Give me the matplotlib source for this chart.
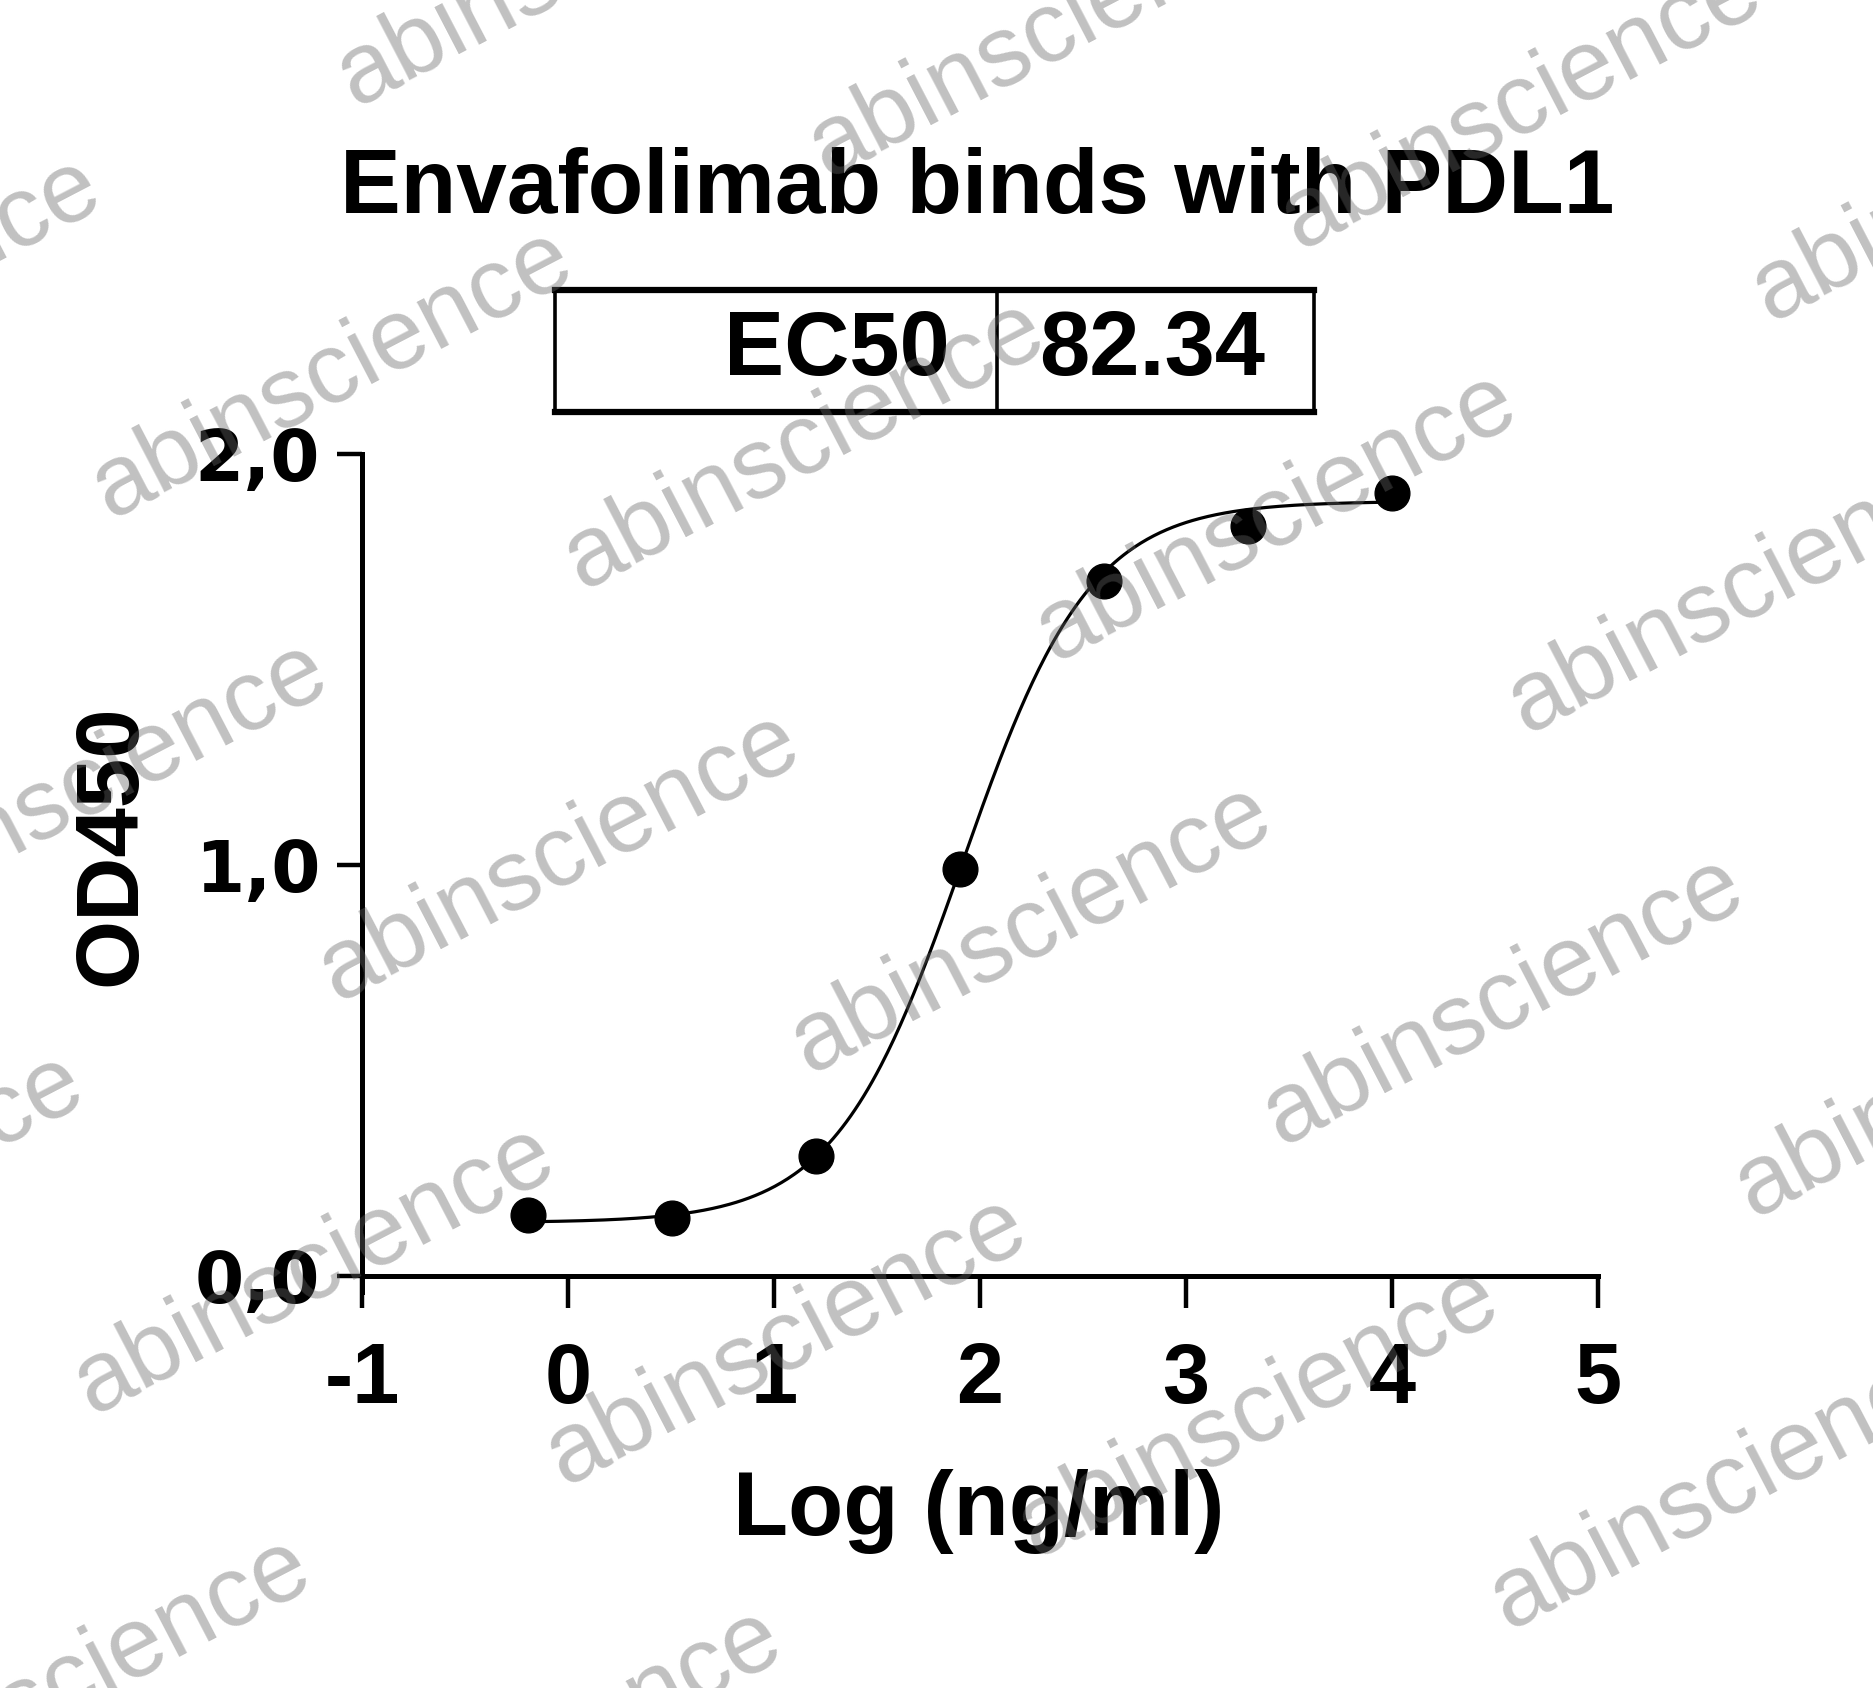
import numpy as np
import matplotlib
matplotlib.use("Agg")
import matplotlib.pyplot as plt

# data (log10 ng/ml, 5-fold dilution series)
log_conc = [-0.194, 0.505, 1.204, 1.903, 2.602, 3.301, 4.0]
od450 = [0.148, 0.140, 0.291, 0.991, 1.692, 1.826, 1.904]

# 4PL fit parameters shown by the chart
ec50 = 82.34
fit_bottom = 0.13
fit_top = 1.885
fit_hill = 1.4

xticks = [-1, 0, 1, 2, 3, 4, 5]
xtick_labels = ["-1", "0", "1", "2", "3", "4", "5"]
yticks = [0.0, 1.0, 2.0]
ytick_labels = ["0,0", "1,0", "2,0"]

W, H = 1873, 1688
fig = plt.figure(figsize=(W / 100, H / 100), dpi=100)
plt.rcParams['font.family'] = ['Liberation Sans', 'DejaVu Sans']

def fx(px):
    return px / W

def fy(py):
    return 1 - py / H

# main axes: x -1..5 spans px 362..1598, y 0..2 spans px 1276..454
y_bottom = -0.04
unit = (1276 - 454) / 2.0
ax = fig.add_axes([fx(362), fy(1276 - y_bottom * unit), fx(1598) - fx(362),
                   (2.0 - y_bottom) * unit / H])
ax.set_xlim(-1, 5)
ax.set_ylim(y_bottom, 2.0)
ax.spines[['right', 'top']].set_visible(False)
ax.spines['bottom'].set_position(('data', 0))
for s in ['left', 'bottom']:
    ax.spines[s].set_linewidth(3.6)
    ax.spines[s].set_capstyle('projecting')
ax.set_xticks(xticks)
ax.set_xticklabels(xtick_labels)
ax.set_yticks(yticks)
ax.set_yticklabels(ytick_labels)
ax.tick_params(axis='x', direction='out', length=23, width=3.2, pad=24)
ax.tick_params(axis='y', direction='out', length=18, width=3.2, pad=12)
for lab in ax.get_xticklabels():
    lab.set_fontsize(61)
    lab.set_fontweight('bold')
for lab in ax.get_yticklabels():
    lab.set_fontsize(51)
    lab.set_fontweight('bold')
    lab.set_family('DejaVu Sans')

# fitted curve
xs = np.linspace(min(log_conc), max(log_conc), 400)
ys = fit_bottom + (fit_top - fit_bottom) / (1 + 10 ** ((np.log10(ec50) - xs) * fit_hill))
ax.plot(xs, ys, color='black', lw=2.3, zorder=3)
ax.plot(log_conc, od450, 'o', color='black', markersize=25, zorder=4, clip_on=False)

# labels
fig.text(fx(979), fy(1535), "Log (ng/ml)", ha='center', va='baseline',
         fontsize=65, fontweight='bold')
fig.text(fx(112), fy(845), "OD450", ha='center', va='center', rotation=90,
         fontsize=64, fontweight='bold')
fig.text(fx(977), fy(213), "Envafolimab binds with PDL1", ha='center', va='baseline',
         fontsize=65.5, fontweight='bold')

# EC50 table
bx = fig.add_axes([fx(555), fy(412), fx(1314) - fx(555), (412 - 290) / H])
bx.set_xticks([])
bx.set_yticks([])
for s in ['left', 'right']:
    bx.spines[s].set_linewidth(2.6)
for s in ['top', 'bottom']:
    bx.spines[s].set_linewidth(4.5)
bx.axvline((997 - 555) / (1314 - 555), color='black', lw=2.6)
bx.text((950 - 555) / (1314 - 555), 0.5, "EC50", ha='right', va='center',
        fontsize=65, fontweight='bold', transform=bx.transAxes)
bx.text((1039 - 555) / (1314 - 555), 0.5, f"{ec50:.2f}", ha='left', va='center',
        fontsize=65, fontweight='bold', transform=bx.transAxes)

# watermark lattice (semi-transparent, drawn on top)
origin = np.array([110.4, 518.8])
step_a = np.array([471.8, 71.7])
step_b = np.array([227.0, 483.8])
for i in range(-4, 6):
    for j in range(-3, 6):
        px, py = origin + i * step_a + j * step_b
        if -700 < px < W + 50 and -50 < py < H + 600:
            fig.text(fx(px), fy(py), "abinscience", rotation=27.5, rotation_mode='anchor',
                     ha='left', va='baseline', fontsize=72, color='#646464',
                     alpha=0.4, zorder=10)

fig.savefig("out.png", dpi=100)
